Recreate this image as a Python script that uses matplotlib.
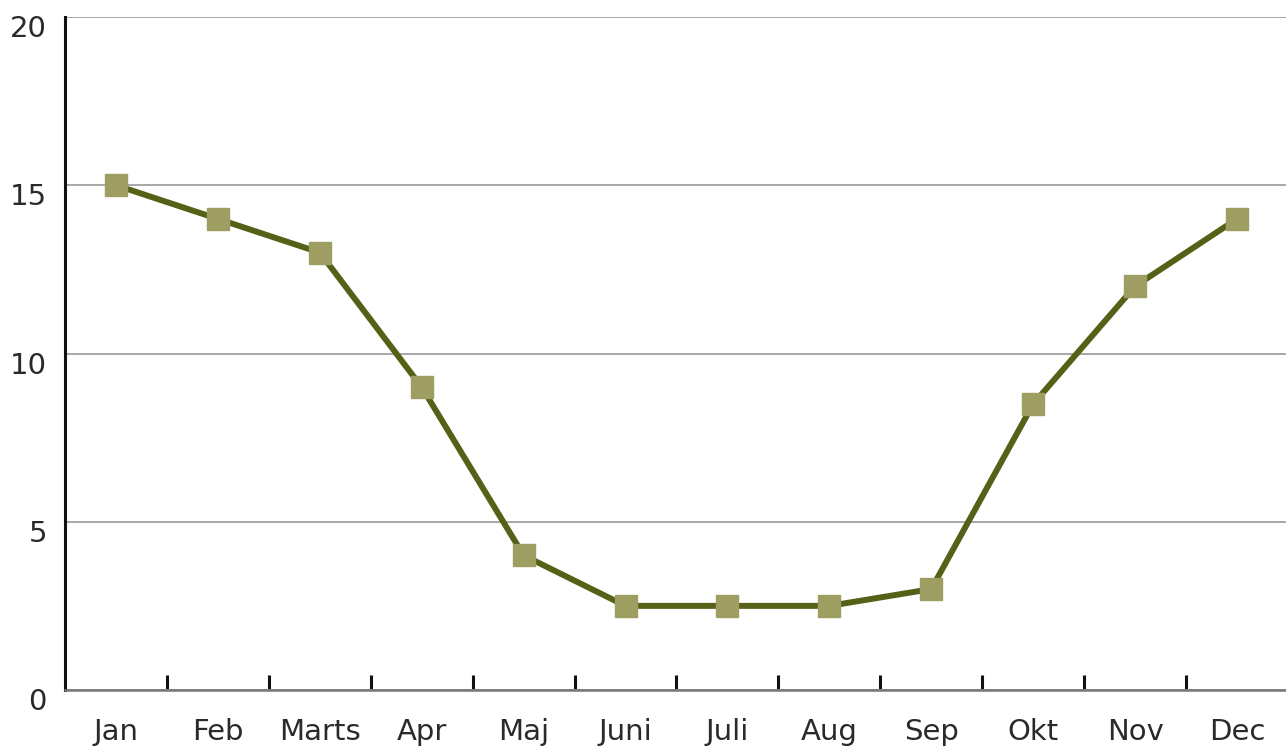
import matplotlib.pyplot as plt
import matplotlib.transforms as mtransforms
import numpy as np

months = ['Jan', 'Feb', 'Marts', 'Apr', 'Maj', 'Juni', 'Juli', 'Aug', 'Sep', 'Okt', 'Nov', 'Dec']
values = [15, 14, 13, 9, 4, 2.5, 2.5, 2.5, 3, 8.5, 12, 14]
yticks = [0, 5, 10, 15, 20]

plt.rcParams['font.family'] = ['DejaVu Sans']

fig = plt.figure(figsize=(12.86, 7.47), dpi=100)
ax = fig.add_axes([65 / 1286, 1 - 690 / 747, 1223 / 1286, 673 / 747])

x = np.arange(len(months))
ax.plot(x, values, color='#556117', lw=4.3, marker='s', markersize=16.5,
        markerfacecolor='#9e9e63', markeredgecolor='#9e9e63', zorder=3)

ax.set_xlim(-0.5, len(months) - 0.5)
ax.set_ylim(0, 20)

ax.set_yticks(yticks)
ax.set_yticklabels([str(v) for v in yticks], fontsize=21, color='#2a2a2a')
ax.tick_params(axis='y', length=0, pad=13)
ax.grid(axis='y', color='#a0a0a0', lw=1.3)
ax.set_axisbelow(True)
shift = mtransforms.ScaledTranslation(0, -9 / 100, fig.dpi_scale_trans)
for lab in ax.get_yticklabels():
    lab.set_transform(lab.get_transform() + shift)

# month labels at centres, tick marks at boundaries
ax.set_xticks(x)
ax.set_xticklabels(months, fontsize=21, color='#2a2a2a')
ax.tick_params(axis='x', which='major', length=0, pad=20)
ax.set_xticks(np.arange(0.5, len(months) - 1), minor=True)
ax.tick_params(axis='x', which='minor', direction='in', length=11, width=2.2, color='#111111')

for s in ['top', 'right']:
    ax.spines[s].set_visible(False)
ax.spines['left'].set_color('#111111')
ax.spines['left'].set_linewidth(2.2)
ax.spines['bottom'].set_color('#777777')
ax.spines['bottom'].set_linewidth(1.8)

fig.savefig('out.png', dpi=100)
